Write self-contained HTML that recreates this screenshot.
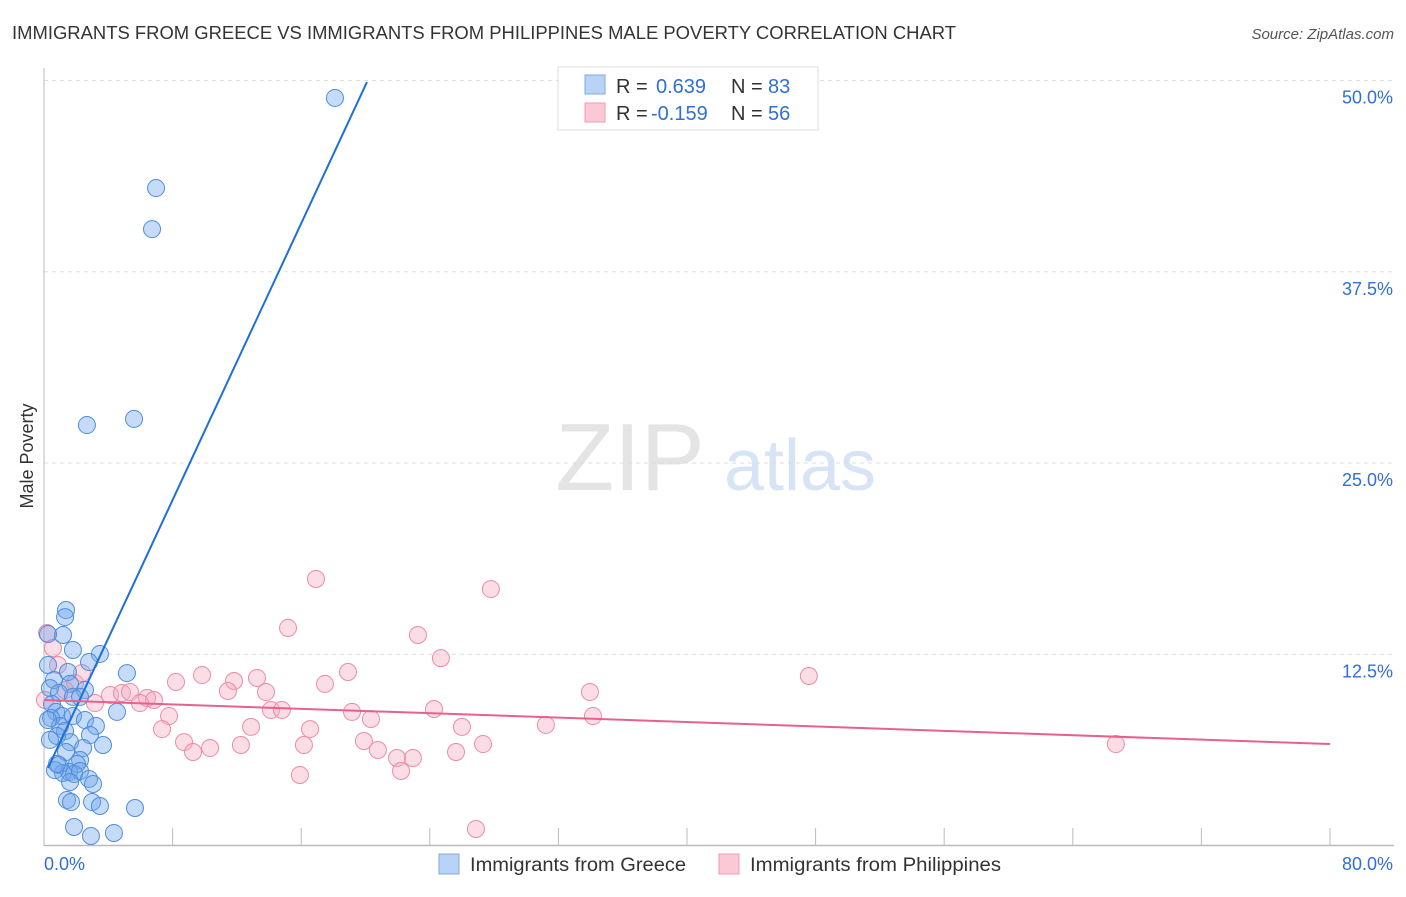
<!DOCTYPE html>
<html><head><meta charset="utf-8"><style>
body{margin:0;background:#fff;font-family:"Liberation Sans",sans-serif;}
svg text{font-family:"Liberation Sans",sans-serif;}
</style></head><body>
<svg id="chart" width="1406" height="892" xmlns="http://www.w3.org/2000/svg">
<text x="12" y="39" font-size="18" fill="#333" textLength="944" lengthAdjust="spacingAndGlyphs">IMMIGRANTS FROM GREECE VS IMMIGRANTS FROM PHILIPPINES MALE POVERTY CORRELATION CHART</text>
<text x="1394" y="39" font-size="15" fill="#555" text-anchor="end" font-style="italic">Source: ZipAtlas.com</text>
<text transform="translate(33,456) rotate(-90)" font-size="18" fill="#333" text-anchor="middle">Male Poverty</text>
<g>
<text x="630" y="490" font-size="96" fill="#e4e4e4" font-family="Liberation Serif" text-anchor="middle">ZIP</text>
<text x="800" y="490" font-size="72" fill="#d6e4f6" text-anchor="middle">atlas</text>
</g>
<g id="grid"></g>
<g id="axes"></g>
<g id="points"></g>
<g id="lines"></g>
<g>
<rect x="558" y="67" width="260" height="63" fill="#fff" stroke="#ddd"/>
<rect x="585" y="75" width="20" height="19" fill="#b9d3f6" stroke="#7fa8e0"/>
<rect x="585" y="103" width="20" height="19" fill="#fbc8d6" stroke="#ee9bb3"/>
<text x="616" y="93" font-size="20" fill="#333">R = </text><text x="656" y="93" font-size="20" fill="#2f6fd6">0.639</text>
<text x="731" y="93" font-size="20" fill="#333">N = </text><text x="768" y="93" font-size="20" fill="#2f6fd6">83</text>
<text x="616" y="120" font-size="20" fill="#333">R = </text><text x="651" y="120" font-size="20" fill="#2f6fd6">-0.159</text>
<text x="731" y="120" font-size="20" fill="#333">N = </text><text x="768" y="120" font-size="20" fill="#2f6fd6">56</text>
</g>
<g>
<rect x="439" y="854" width="20" height="20" fill="#b9d3f6" stroke="#7fa8e0"/>
<text x="470" y="871" font-size="19" fill="#333" textLength="216" lengthAdjust="spacingAndGlyphs">Immigrants from Greece</text>
<rect x="719" y="854" width="20" height="20" fill="#fbc8d6" stroke="#ee9bb3"/>
<text x="750" y="871" font-size="19" fill="#333" textLength="251" lengthAdjust="spacingAndGlyphs">Immigrants from Philippines</text>
</g>
</svg>
<script>
const greeceX=[18.1,6.97,6.72,2.67,5.6,1.37,1.31,1.18,0.25,1.8,3.48,2.8,5.16,0.25,1.49,0.62,1.62,0.37,2.55,0.93,1.8,2.24,4.54,0.5,0.75,1.12,0.44,1.8,2.55,3.23,1.0,1.31,0.81,2.86,1.62,3.67,2.43,1.37,2.24,2.05,0.93,1.56,1.18,1.87,2.24,2.8,3.05,1.62,1.43,1.68,2.99,3.48,5.66,1.87,2.92,4.35,0.68,0.81,0.25,0.37];
const greeceY=[48.86,42.97,40.29,27.48,27.88,15.39,14.93,13.76,13.82,12.78,12.52,11.99,11.27,11.8,11.34,10.82,10.56,10.29,10.16,9.97,9.71,9.71,8.73,9.25,8.73,8.46,8.33,8.46,8.2,7.81,7.81,7.48,7.16,7.22,6.76,6.57,6.37,6.11,5.59,5.33,5.26,4.8,4.74,4.67,4.87,4.35,4.02,4.15,2.97,2.84,2.84,2.58,2.45,1.21,0.62,0.82,4.93,5.33,8.2,6.9];
const philX=[16.92,27.8,15.18,23.26,24.69,18.91,47.58,9.83,13.25,11.82,8.21,17.48,11.44,13.81,33.96,4.11,4.85,5.35,6.41,6.84,5.97,3.17,14.12,14.8,19.16,24.26,7.78,20.34,34.15,7.34,12.88,16.55,26.0,31.22,8.71,12.25,16.17,19.9,27.31,9.27,10.33,20.77,66.68,25.63,21.96,22.95,15.92,22.21,26.87,0.19,0.56,0.87,1.93,1.31,0.06,2.36];
const philY=[17.42,16.76,14.22,13.76,12.25,11.34,11.08,11.14,10.95,10.75,10.69,10.56,10.1,10.03,10.03,9.84,9.97,10.03,9.64,9.51,9.31,9.31,8.86,8.86,8.73,8.92,8.46,8.27,8.46,7.61,7.75,7.61,7.75,7.88,6.76,6.57,6.57,6.83,6.63,6.11,6.37,6.24,6.63,6.11,5.72,5.72,4.61,4.87,1.08,13.89,12.91,11.8,10.62,10.16,9.51,11.27];
const greeceTrend=[[0.25,5.07],[20.09,49.9]];
const philTrend=[[0,9.51],[80,6.63]];
const yTicks=[12.5,25,37.5,50];
const yTickLabels=["12.5%","25.0%","37.5%","50.0%"];
const xTicks=[0,8,16,24,32,40,48,56,64,72,80];
const NS="http://www.w3.org/2000/svg";
const sx=v=>44+v/80*1286;
const sy=v=>845.5-v*15.3;
function mk(tag,attrs,parent){const e=document.createElementNS(NS,tag);for(const k in attrs)e.setAttribute(k,attrs[k]);parent.appendChild(e);return e;}
const grid=document.getElementById('grid'),axes=document.getElementById('axes'),pts=document.getElementById('points'),lines=document.getElementById('lines');
yTicks.forEach((t,i)=>{
 const l=mk('line',{x1:44,x2:1394,y1:sy(t),y2:sy(t),stroke:'#ddd','stroke-dasharray':'4,4'},grid);
 
 
 const tx=mk('text',{x:1393,y:sy(t)+23,'font-size':18,fill:'#2f6fd6','text-anchor':'end'},axes);
 tx.textContent=yTickLabels[i];
 
 
});
const ya=mk('line',{x1:44,x2:44,y1:68,y2:846,stroke:'#bbb'},axes);


const xa=mk('line',{x1:44,x2:1394,y1:845.5,y2:845.5,stroke:'#bbb','stroke-width':1.5},axes);


xTicks.forEach(t=>{
 const l=mk('line',{x1:sx(t),x2:sx(t),y1:828,y2:845,stroke:'#bbb'},axes);
 
 
});
const x0=mk('text',{x:44,y:870,'font-size':18,fill:'#2f6fd6'},axes);x0.textContent='0.0%';


const x1=mk('text',{x:1393,y:870,'font-size':18,fill:'#2f6fd6','text-anchor':'end'},axes);x1.textContent='80.0%';


philX.forEach((v,i)=>{
 const c=mk('circle',{cx:sx(v),cy:sy(philY[i]),r:8.5,fill:'rgba(246,170,192,0.4)',stroke:'#ec8ba8','stroke-width':1},pts);
 
 
});
greeceX.forEach((v,i)=>{
 const c=mk('circle',{cx:sx(v),cy:sy(greeceY[i]),r:8.5,fill:'rgba(110,165,235,0.4)',stroke:'#4f8ddc','stroke-width':1},pts);
 
 
});
const gl=mk('line',{x1:sx(greeceTrend[0][0]),y1:sy(greeceTrend[0][1]),x2:sx(greeceTrend[1][0]),y2:sy(greeceTrend[1][1]),stroke:'#1f6fd8','stroke-width':2},lines);


const pl=mk('line',{x1:sx(philTrend[0][0]),y1:sy(philTrend[0][1]),x2:sx(philTrend[1][0]),y2:sy(philTrend[1][1]),stroke:'#e8608c','stroke-width':2},lines);


</script>
</body></html>
